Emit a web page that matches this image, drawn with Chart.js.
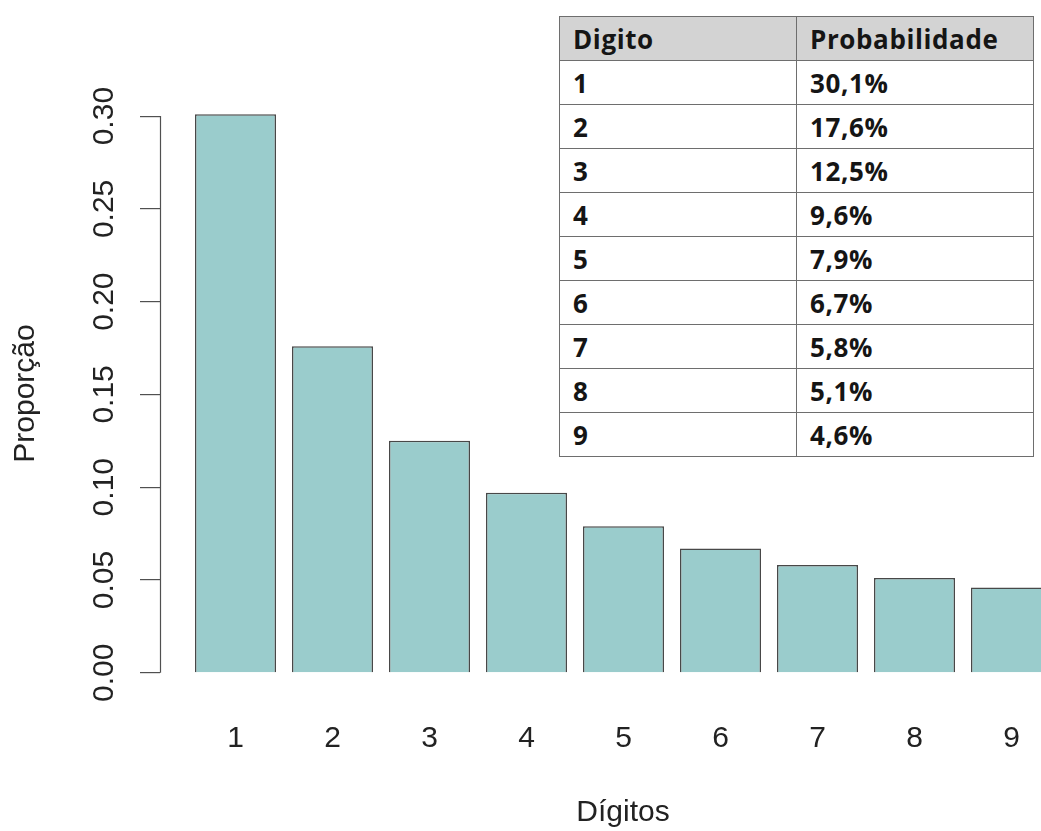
<!DOCTYPE html>
<html>
<head>
<meta charset="utf-8">
<script src="https://cdn.jsdelivr.net/npm/chart.js@4"></script>
<style>
  body { margin: 0; width: 1041px; height: 831px; overflow: hidden; background: #fff; }
  #wrap { position: relative; width: 1100px; height: 831px; }
  #tbl { position: absolute; left: 559px; top: 16px; border-collapse: collapse; background: #fff;
         font: bold 26px "Open Sans", sans-serif; color: #151515; letter-spacing: 0.6px; }
  #tbl tr { height: 44px; }
  #tbl td { border: 1.5px solid #6e6e6e; width: 223px; padding: 0 0 0 13px; vertical-align: middle; }
  #tbl tr.head td { background: #d3d3d3; }
</style>
</head>
<body>
<div id="wrap">
  <canvas id="chart"></canvas>
  <table id="tbl"></table>
</div>
<script>
// Benford: proporção do primeiro dígito
var digits = [1, 2, 3, 4, 5, 6, 7, 8, 9];
var proportions = [0.301, 0.176, 0.125, 0.097, 0.079, 0.067, 0.058, 0.051, 0.046];
var yTicks = [0, 0.05, 0.10, 0.15, 0.20, 0.25, 0.30];
var tableHeader = ['Digito', 'Probabilidade'];
var tableProb = ['30,1%', '17,6%', '12,5%', '9,6%', '7,9%', '6,7%', '5,8%', '5,1%', '4,6%'];

// table
var tbl = document.getElementById('tbl');
var html = '<tr class="head"><td>' + tableHeader[0] + '</td><td>' + tableHeader[1] + '</td></tr>';
digits.forEach(function (d, i) {
   html += '<tr><td>' + d + '</td><td>' + tableProb[i] + '</td></tr>';
});
tbl.innerHTML = html;

// R style y axis line, only from first to last tick
var axisLine = {
   id: 'axisLine',
   afterDatasetsDraw: function (chart) {
      var y = chart.scales.y;
      var ctx = chart.ctx;
      var x = Math.round(chart.chartArea.left) + 0.5;
      ctx.save();
      ctx.strokeStyle = '#505050';
      ctx.lineWidth = 1.2;
      ctx.beginPath();
      ctx.moveTo(x, y.getPixelForValue(yTicks[0]));
      ctx.lineTo(x, y.getPixelForValue(yTicks[yTicks.length - 1]));
      ctx.stroke();
      ctx.restore();
   }
};

var ctx = document.getElementById('chart').getContext('2d');
var chart = new Chart(ctx, {
   type: 'bar',
   data: {
      datasets: [{
         data: digits.map(function (d, i) { return {x: d, y: proportions[i]}; }),
         backgroundColor: '#9acccc',
         borderColor: '#484848',
         borderWidth: 1.5,
         barPercentage: 81 / 97,
         categoryPercentage: 1
      }]
   },
   options: {
      responsive: true,
      maintainAspectRatio: false,
      animation: false,
      layout: { padding: { top: 92, right: 14, bottom: 0, left: 0 } },
      plugins: { legend: { display: false }, tooltip: { enabled: false } },
      scales: {
         x: {
            type: 'linear',
            offset: false,
            min: 0.2216,
            max: 9.768,
            grid: { display: false, drawTicks: false },
            border: { display: false },
            afterBuildTicks: function (scale) {
               scale.ticks = digits.map(function (d) { return {value: d}; });
            },
            afterFit: function (scale) { scale.height = 136; },
            ticks: {
               padding: 26,
               color: '#222',
               font: { family: 'Liberation Sans, Arial, sans-serif', size: 30 },
               callback: function (v) { return String(v); }
            },
            title: {
               display: true,
               text: 'Dígitos',
               color: '#222',
               font: { family: 'Liberation Sans, Arial, sans-serif', size: 30 },
               padding: { top: 0, bottom: 0 }
            }
         },
         y: {
            min: -0.012,
            max: 0.313,
            grid: { drawOnChartArea: false, drawTicks: true, tickLength: 20, color: '#505050', lineWidth: 1.2 },
            border: { display: false },
            afterBuildTicks: function (scale) {
               scale.ticks = yTicks.map(function (v) { return {value: v}; });
            },
            afterFit: function (scale) { scale.width = 160; },
            ticks: {
               minRotation: 90,
               maxRotation: 90,
               crossAlign: 'center',
               padding: 6,
               color: '#222',
               font: { family: 'Liberation Sans, Arial, sans-serif', size: 30 },
               callback: function (v) { return v.toFixed(2); }
            },
            title: {
               display: true,
               text: 'Proporção',
               color: '#222',
               font: { family: 'Liberation Sans, Arial, sans-serif', size: 30 },
               padding: { top: 8, bottom: 0 }
            }
         }
      }
   },
   plugins: [axisLine]
});
</script>
</body>
</html>
